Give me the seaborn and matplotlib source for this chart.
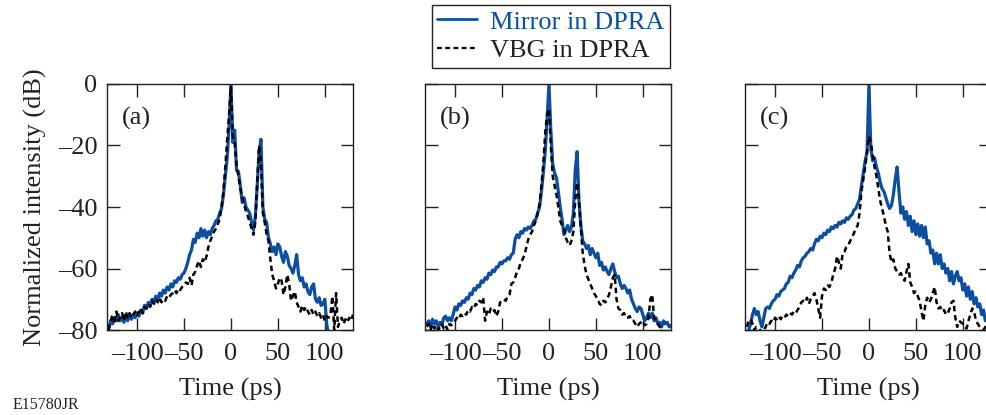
import numpy as np
import pandas as pd
import matplotlib
matplotlib.use("Agg")
import matplotlib.pyplot as plt
import seaborn as sns
from matplotlib.lines import Line2D

# ---------------- data ----------------
time_ps = np.arange(-130, 131, 2)

mirror_a = [-79, -77, -78, -76, -77, -75, -77, -76, -77.5, -75.5, -77, -75, -76.5, -75, -76, -74.5,
            -75.5, -73.5, -74.5, -72, -73, -71, -72, -70, -71, -69, -70.5, -68, -69, -67, -68, -66,
            -67, -65, -66, -64, -64.5, -63, -63.5, -62, -61.5, -60, -58, -55.5, -54, -50.5, -51.5,
            -48.5, -50, -47, -49.5, -47.5, -50, -48, -49, -47, -46, -44.5, -44, -42, -40.5, -36, -30,
            -24, -14, 0, -19, -15, -28, -28.5, -33, -38.5, -37, -40, -41, -42, -45, -47.5, -43, -33,
            -22, -18, -40, -44, -45, -50, -52, -54.5, -53, -55.5, -52, -53, -56, -58, -54.5, -56, -59,
            -60, -61.5, -59, -55.5, -62, -64, -63, -66, -65, -67.5, -68.5, -66, -65, -70, -71, -69.5,
            -72, -71.5, -70, -78, -82, -85, -85, -85, -85, -85, -85, -85, -85, -85, -85, -85, -85, -85]
vbg_a = [-80, -77, -75, -78, -74, -77, -76, -74.5, -77, -74, -76, -74.5, -76, -75, -74, -75.5,
         -74, -73, -74.5, -72.5, -73, -71.5, -72.5, -70.5, -71.5, -70, -71, -69.5, -71, -70, -70.5,
         -69, -69.5, -68.5, -68, -67, -68, -66.5, -67, -66, -65.5, -64.5, -65, -63, -65.5, -62, -61,
         -59, -57.5, -59.5, -57, -58, -56, -53, -51, -49.5, -48, -47, -45.5, -44, -40, -35, -27, -18,
         -10, -1, -17, -19, -27, -30, -34, -37, -39, -41.5, -43, -45, -47, -49, -45, -32, -20, -26,
         -42, -45, -49, -51, -57, -62, -64, -66.5, -65, -63, -64, -68.5, -66, -62, -65, -70.5, -69,
         -67.5, -71, -72.5, -74, -72, -73.5, -72.5, -74, -75, -73.5, -75, -74, -75.5, -74.5, -76, -75,
         -77, -75.5, -76, -75, -69, -80, -68, -79, -77, -76, -78, -76.5, -77.5, -76, -77, -75]

mirror_b = [-78, -77, -79, -76.5, -78, -77, -79, -77.5, -78.5, -76, -75.5, -77, -76, -77, -75,
            -72.5, -73.5, -71.5, -72, -70.5, -71, -69.5, -70, -68, -68.5, -66.5, -67, -65.5, -66,
            -64, -64.5, -63, -63.5, -61.5, -62, -60.5, -61, -59.5, -59.5, -58, -58.5, -57.5, -57.5,
            -56.5, -57, -55.5, -55, -50.5, -49, -50, -48, -48.5, -47, -47.5, -46.5, -47, -46, -44.5,
            -44, -42, -40, -35, -29, -22, -12, 0, -15, -26, -29, -30.5, -35, -40, -44, -49, -47.5, -46,
            -48, -46.5, -42, -28, -22, -38, -46, -51, -52, -53.5, -52.5, -55.5, -53.5, -55, -56.5, -55,
            -59, -58, -60.5, -59.5, -61, -62, -60, -58.5, -61, -63, -62.5, -65, -66.5, -65.5, -66.5,
            -68, -67, -70, -71.5, -73, -74, -72.5, -73, -75, -77, -76, -74.5, -76, -74.5, -77, -76,
            -78, -77.5, -79, -77, -78, -77.5, -79, -78.5]
vbg_b = [-79, -78, -80, -78, -79.5, -78.5, -80, -79, -78, -79.5, -78.5, -80, -78, -78.5, -77.5,
         -77, -76, -76.5, -75, -75.5, -74.5, -75, -73.5, -74, -72.5, -73, -71.5, -72, -70.5, -71,
         -69.5, -77, -74, -75, -73, -74, -73.5, -75.5, -74, -71, -70.5, -70, -70.5, -69, -68.5, -65,
         -64.5, -63, -61, -60, -58, -57, -55.5, -53, -50.5, -49, -48, -46, -44.5, -42, -39, -33, -26,
         -16, -10, -8, -20, -30, -33, -36, -40, -44.5, -46, -47, -50, -51.5, -52.5, -51, -48, -38,
         -32, -38, -47, -55, -59, -62, -63.5, -65, -66.5, -68, -69, -70, -71.5, -72, -70.5, -71, -70,
         -68.5, -66, -63, -62, -70, -73, -73.5, -75, -74.5, -76, -76, -75.5, -77, -77, -78, -79, -78,
         -77.5, -77, -78.5, -78, -76, -70, -68.5, -76, -77, -78, -79, -80, -81, -82, -82, -82, -82]

mirror_c = [-81, -80, -78, -75, -73, -75, -74, -77, -79, -76, -73, -72.5, -73, -71.5, -70.5, -70,
            -68.5, -69, -67.5, -67, -66.5, -65, -64.5, -62.5, -63, -61.5, -60.5, -59, -59.5, -57.5,
            -56.5, -56, -55, -54.5, -53.5, -54, -52, -50.5, -51, -49.5, -50, -48.5, -49, -47.5, -48,
            -46.5, -47, -46, -46.5, -45, -45.5, -44.5, -45, -43.5, -44, -43, -42.5, -41, -40.5, -39,
            -37.5, -33, -29, -25, -22, 0, -21, -25, -24, -27, -29, -32, -34, -35, -37, -39, -40.5,
            -39.5, -36, -31, -27, -35, -42, -40, -44, -41.5, -46, -43, -48, -44.5, -49, -45.5, -49.5,
            -46, -50, -46.5, -52, -51, -55, -54, -58.5, -55, -58.5, -55.5, -60, -58.5, -61.5, -60, -64,
            -61, -65, -62.5, -61, -64, -63, -67, -65, -69, -66, -70, -67.5, -71.5, -69.5, -72.5, -71.5,
            -75, -73.5, -77, -76.5, -80, -81]
vbg_c = [-79, -77, -76.5, -78, -80, -79, -79.5, -80, -81, -80, -79, -77.5, -78, -77, -77.5, -76,
         -76.5, -75.5, -76.5, -75.5, -76, -75, -75.5, -74.5, -75, -74, -74.5, -73.5, -72.5, -71,
         -70.5, -71, -69.5, -71.5, -70, -69, -68, -70, -73, -76, -69, -66.5, -67, -65.5, -66, -64.5,
         -62, -60, -56, -58, -60, -55, -54.5, -53, -52.5, -51, -50, -48.5, -47, -46, -42, -35, -31,
         -27, -22, -17, -19, -23, -27, -30, -34, -38, -40.5, -43, -46, -48, -55, -58, -57, -60, -61,
         -62, -61.5, -63, -64, -61, -58.5, -64.5, -66, -68, -67.5, -69, -70.5, -74, -77, -72, -69.5,
         -71, -70, -68, -66, -71, -73, -72.5, -74, -73.5, -75, -74.5, -73, -71, -70.5, -76, -79, -77,
         -77.5, -78, -79, -79.5, -77, -75, -73, -74, -77, -78, -79, -79.5, -80, -79, -80.5, -81, -82]

panel_labels = ["(a)", "(b)", "(c)"]
series_names = ["Mirror in DPRA", "VBG in DPRA"]
x_ticks = [-100, -50, 0, 50, 100]
x_tick_labels = ["\u2013100", "\u201350", "0", "50", "100"]
y_ticks = [0, -20, -40, -60, -80]
y_tick_labels = ["0", "\u201320", "\u201340", "\u201360", "\u201380"]

rows = []
for lab, (m, v) in zip(panel_labels, [(mirror_a, vbg_a), (mirror_b, vbg_b), (mirror_c, vbg_c)]):
    for name, vals in zip(series_names, [m, v]):
        for tt, val in zip(time_ps, vals, strict=True):
            rows.append((lab, name, tt, val))
df = pd.DataFrame(rows, columns=["panel", "series", "time", "dB"])

# ---------------- style ----------------
sns.set_theme(style="ticks")
plt.rcParams["font.family"] = ["Liberation Serif", "DejaVu Serif"]

BLUE = "#0B4EA2"
INK = "#222222"
fs = 19
DASH = (0, (2.2, 1.5))

fig = plt.figure(figsize=(9.86, 4.15), dpi=100)
lefts = [107 / 986, 425 / 986, 745 / 986]
bottom = (415 - 330) / 415
height = 246 / 415
width = 246 / 986

for i, (lab, left) in enumerate(zip(panel_labels, lefts)):
    ax = fig.add_axes([left, bottom, width, height])
    sub = df[df["panel"] == lab]
    sns.lineplot(data=sub[sub["series"] == series_names[0]], x="time", y="dB", ax=ax,
                 color=BLUE, linewidth=2.3, sort=False, estimator=None, zorder=2)
    sns.lineplot(data=sub[sub["series"] == series_names[1]], x="time", y="dB", ax=ax,
                 color="black", linewidth=1.8, linestyle=DASH, sort=False,
                 estimator=None, zorder=3)
    ax.set_xlim(-132, 130)
    ax.set_ylim(-80, 0)
    ax.set_xticks(x_ticks)
    ax.set_xticklabels(x_tick_labels)
    ax.set_yticks(y_ticks)
    ax.tick_params(direction="in", length=9, width=1.0, top=True, right=True,
                   labelsize=fs, pad=7, colors=INK)
    ax.tick_params(axis="x", pad=9)
    for sp in ax.spines.values():
        sp.set_linewidth(1.0)
        sp.set_color(INK)
    ax.set_xlabel("Time (ps)", fontsize=fs, labelpad=10, color=INK)
    if i == 0:
        ax.set_yticklabels(y_tick_labels)
        ax.set_ylabel("Normalized intensity (dB)", fontsize=fs, labelpad=8, color=INK)
    else:
        ax.set_ylabel("")
        ax.set_yticklabels([])
    ax.text(0.06, 0.86, lab, transform=ax.transAxes, fontsize=fs, va="center", ha="left",
            color=INK)
    if ax.get_legend() is not None:
        ax.get_legend().remove()

handles = [Line2D([], [], color=BLUE, linewidth=2.0),
           Line2D([], [], color="black", linewidth=1.6, linestyle=DASH)]
leg = fig.legend(handles, series_names, loc="upper center", bbox_to_anchor=(551 / 986, 0.988),
                 fontsize=fs, frameon=True, fancybox=False, edgecolor=INK,
                 framealpha=1, handlelength=1.5, handletextpad=0.5, borderpad=0.2,
                 labelspacing=0.2, borderaxespad=0)
leg.get_frame().set_linewidth(1.0)
leg.get_texts()[0].set_color(BLUE)
leg.get_texts()[1].set_color(INK)

fig.text(13 / 986, 1 - 405 / 415, "E15780JR", fontsize=11.5, ha="left", va="center",
         color=INK)

fig.savefig("out.png", dpi=100)
